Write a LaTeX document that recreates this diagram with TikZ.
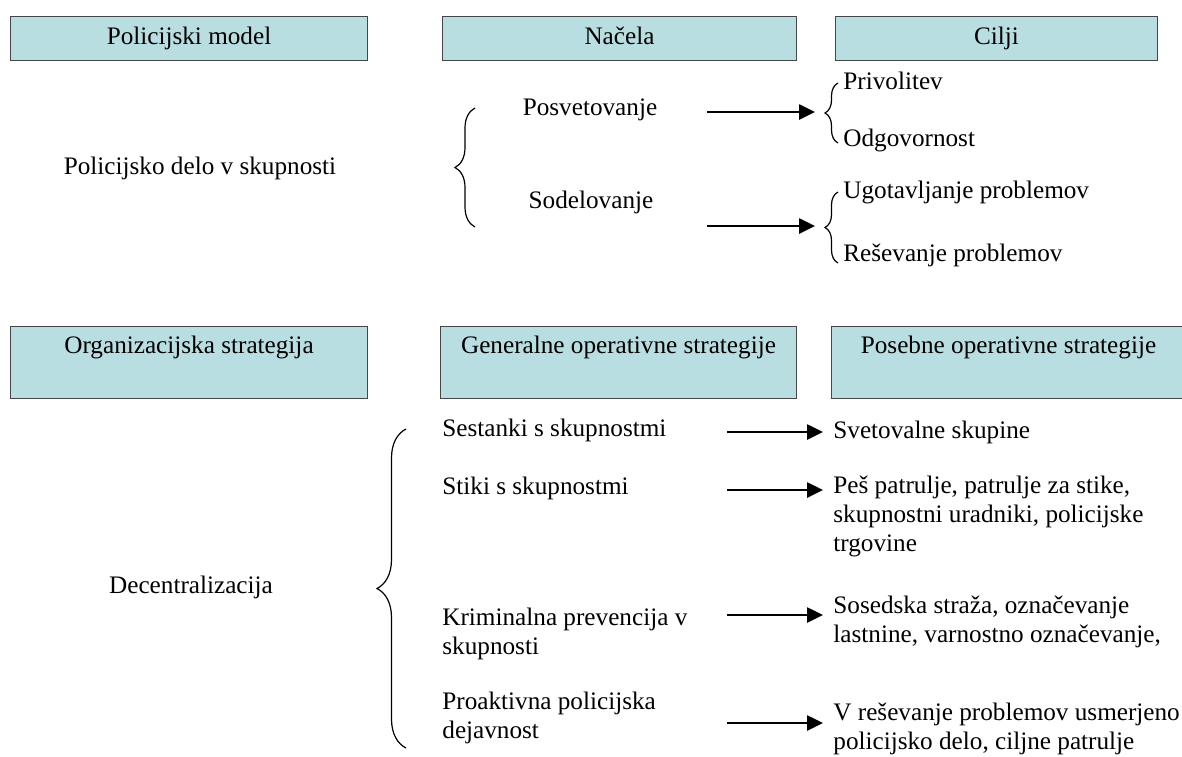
\documentclass[tikz,border=0pt]{standalone}
\usepackage{fontspec}
\setmainfont{Liberation Serif}
\usepackage{tikz}
\usetikzlibrary{arrows.meta,decorations.pathreplacing,positioning}
\definecolor{glavabarva}{RGB}{184,222,226}
\definecolor{robbarva}{RGB}{70,70,70}
\tikzstyle{glava}=[draw=robbarva, line width=0.5pt, fill=glavabarva, anchor=north west, inner sep=0pt, text height=9pt, text depth=3pt]
\tikzstyle{besedilo}=[inner sep=0pt, align=left]
\tikzstyle{puscica}=[-{Triangle[length=8pt,width=7.5pt]}, line width=1.3pt]
\tikzset{oklepaj/.style={decoration={brace, amplitude=#1, aspect=0.5}, decorate, line width=0.6pt}}

\begin{document}
\begin{tikzpicture}[x=0.5pt, y=-0.5pt, font=\fontsize{12.6pt}{14.5pt}\selectfont]

\useasboundingbox (0,0) rectangle (1182,756);

% glave zgoraj
\node[glava, minimum width=178.5pt, minimum height=22pt] (model) at (10,16) {Policijski model};
\node[glava, minimum width=177pt, minimum height=22pt] (nacela) at (442,16) {Načela};
\node[glava, minimum width=161pt, minimum height=22pt] (cilji) at (835,16) {Cilji};

% policijsko delo v skupnosti
\node[besedilo] (pdvs) at (200,168) {Policijsko delo v skupnosti};
\draw[oklepaj=10pt] (475,227) -- (475,108);

\node[besedilo] (posv) at (590,110) {Posvetovanje};
\node[besedilo] (sodel) at (591,202) {Sodelovanje};

\coordinate (p1) at (707,112); \coordinate (k1) at (815,112);
\coordinate (p2) at (707,226); \coordinate (k2) at (815,226);
\draw[puscica] (p1) -- (k1);
\draw[puscica] (p2) -- (k2);

\draw[oklepaj=6.5pt] (838,143) -- (838,83);
\draw[oklepaj=6.5pt] (838,263) -- (838,192);

\node[besedilo, anchor=base west] (priv) at (843,89) {Privolitev};
\node[besedilo, anchor=base west] (odgo) at (843,146) {Odgovornost};
\node[besedilo, anchor=base west] (ugot) at (843,198) {Ugotavljanje problemov};
\node[besedilo, anchor=base west] (resp) at (843,261) {Reševanje problemov};

% glave spodaj
\node[glava, minimum width=178.5pt, minimum height=36pt] (org) at (10,326) {};
\node[glava, minimum width=178pt, minimum height=36pt] (gen) at (440,326) {};
\node[glava, minimum width=185pt, minimum height=36pt] (pos) at (831,326) {};
\node[yshift=-10.5pt] (orgt) at (org.north) {Organizacijska strategija};
\node[yshift=-10.5pt] (gent) at (gen.north) {Generalne operativne strategije};
\node[yshift=-10.5pt, xshift=-4pt] (post) at (pos.north) {Posebne operativne strategije};

% decentralizacija
\node[besedilo] (dec) at (191,587) {Decentralizacija};
\draw[oklepaj=14.5pt] (406,748) -- (406,429);

\node[besedilo, anchor=base west] (sest) at (442,436) {Sestanki s skupnostmi};
\node[besedilo, anchor=base west] (stik) at (442,494) {Stiki s skupnostmi};
\node[besedilo, anchor=base west] (krim) at (442,654) {Kriminalna prevencija v\\skupnosti};
\node[besedilo, anchor=base west] (proa) at (442,738) {Proaktivna policijska\\dejavnost};

\node[besedilo, anchor=base west] (svet) at (833,438) {Svetovalne skupine};
\node[besedilo, anchor=base west] (pes) at (833,551) {Peš patrulje, patrulje za stike,\\skupnostni uradniki, policijske\\trgovine};
\node[besedilo, anchor=base west] (sos) at (833,642) {Sosedska straža, označevanje\\lastnine, varnostno označevanje,};
\node[besedilo, anchor=base west] (vres) at (833,749) {V reševanje problemov usmerjeno\\policijsko delo, ciljne patrulje};

\coordinate (z1) at (727,432);
\coordinate (z2) at (727,490);
\coordinate (z3) at (727,615);
\coordinate (z4) at (727,723);
\draw[puscica, shorten >=5pt] (z1) -- (z1 -| svet.west);
\draw[puscica, shorten >=5pt] (z2) -- (z2 -| pes.west);
\draw[puscica, shorten >=5pt] (z3) -- (z3 -| sos.west);
\draw[puscica, shorten >=5pt] (z4) -- (z4 -| vres.west);

\end{tikzpicture}
\end{document}
